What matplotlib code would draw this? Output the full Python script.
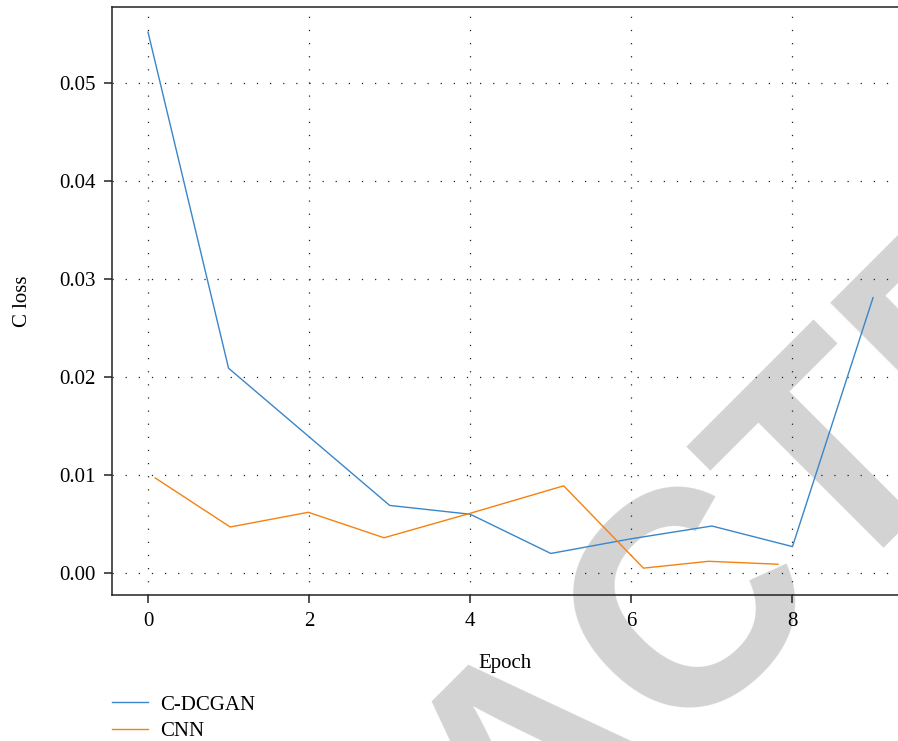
import matplotlib
matplotlib.use("Agg")
import matplotlib.pyplot as plt

# loss per epoch
epochs_gan = [0, 1, 2, 3, 4, 5, 6, 7, 8, 9]
loss_gan = [0.0552, 0.0209, 0.0139, 0.0069, 0.0060, 0.0020, 0.0035, 0.0048, 0.0027, 0.0281]

epochs_cnn = [0.09, 1.02, 1.99, 2.93, 4.0, 5.16, 6.15, 6.96, 7.82]
loss_cnn = [0.0097, 0.0047, 0.0062, 0.0036, 0.0061, 0.0089, 0.0005, 0.0012, 0.0009]

x_ticks = [0, 2, 4, 6, 8]
y_ticks = [0.00, 0.01, 0.02, 0.03, 0.04, 0.05]

plt.rcParams['font.family'] = ['Liberation Serif', 'DejaVu Serif']
plt.rcParams['font.size'] = 15

fig = plt.figure(figsize=(8.98, 7.41), dpi=100)
ax = fig.add_axes([112 / 898, 1 - 595 / 741, 1 - 112 / 898, (595 - 7) / 741])
ax.set_facecolor('none')

# big stamp behind everything
fig.text(538 / 898, 1 - 761 / 741, 'RETRACTED', rotation=45, rotation_mode='anchor',
         ha='center', va='center', fontsize=220, fontweight='bold',
         family='Liberation Sans', color='#d3d3d3', zorder=-5)

ax.plot(epochs_gan, loss_gan, color='#3a86c8', lw=1.0, label='C-DCGAN')
ax.plot(epochs_cnn, loss_cnn, color='#f5820f', lw=1.0, label='CNN')

ax.set_xlim(-0.447, 9.31)
ax.set_ylim(-0.00224, 0.05776)
ax.set_xticks(x_ticks)
ax.set_yticks(y_ticks)
ax.set_yticklabels(['%.2f' % v for v in y_ticks])
ax.grid(True, color='#222222', lw=0.9, linestyle=(0, (1, 9.5)))

for side in ['left', 'bottom', 'top']:
    ax.spines[side].set_linewidth(1.1)
    ax.spines[side].set_color('#222222')
ax.spines['right'].set_visible(False)
ax.tick_params(direction='out', length=6, width=1.1, color='#222222', pad=6)

ax.set_xlabel('Epoch', labelpad=17)
ax.set_ylabel('C loss', labelpad=19)

ax.legend(loc='upper left', bbox_to_anchor=(0.0, -0.17), frameon=False,
          handlelength=1.73, handletextpad=0.58, labelspacing=0.35, borderaxespad=0,
          borderpad=0)

fig.savefig('out.png', dpi=100)
